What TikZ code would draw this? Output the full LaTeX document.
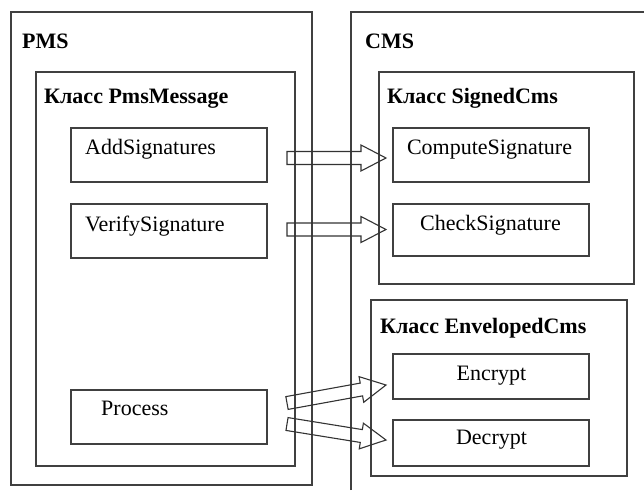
\documentclass[tikz,border=0pt]{standalone}
\usepackage{fontspec}
\setmainfont{Liberation Serif}
\usetikzlibrary{calc}
\tikzset{
  box/.style={draw=black!75, line width=1.1pt, rectangle, inner sep=0pt, outer sep=0pt},
  title/.style={anchor=base west, inner sep=0pt, font=\fontsize{22}{26}\selectfont\bfseries},
  mtext/.style={anchor=base west, inner sep=0pt, font=\fontsize{22}{26}\selectfont},
  ctext/.style={anchor=base, inner sep=0pt, font=\fontsize{22}{26}\selectfont},
  barrow/.style={draw=black!80, line width=1.1pt, line join=miter}
}
\newcommand\myblockarrow[2]{%
  \coordinate (#1h) at ($(#2)!25pt!(#1)$);
  \draw[barrow] ($(#1)!6.5pt!90:(#2)$) -- ($(#1h)!6.5pt!90:(#2)$) -- ($(#1h)!13pt!90:(#2)$) -- (#2) -- ($(#1h)!13pt!-90:(#2)$) -- ($(#1h)!6.5pt!-90:(#2)$) -- ($(#1)!6.5pt!-90:(#2)$) -- cycle;}
\begin{document}
\begin{tikzpicture}[x=1pt,y=-1pt]
\useasboundingbox (0,0) rectangle (644,490);
% PMS side
\node[box, minimum width=301pt, minimum height=473pt] (pms) at (161.5,248.5) {};
\node[box, minimum width=259pt, minimum height=394pt] (pmsmsg) at (165.5,269) {};
\node[box, minimum width=196pt, minimum height=54pt] (add) at (169,155) {};
\node[box, minimum width=196pt, minimum height=54pt] (verify) at (169,231) {};
\node[box, minimum width=196pt, minimum height=54pt] (process) at (169,417) {};
% CMS side
\draw[draw=black!75, line width=1.1pt] (351,490) coordinate (cmsb) -- (351,12) coordinate (cmstl) -- (644,12) coordinate (cmsr);
\node[box, minimum width=255pt, minimum height=212pt] (signed) at (506.5,178) {};
\node[box, minimum width=196pt, minimum height=54pt] (compute) at (491,155) {};
\node[box, minimum width=196pt, minimum height=52pt] (check) at (491,230) {};
\node[box, minimum width=256pt, minimum height=176pt] (env) at (499,388) {};
\node[box, minimum width=196pt, minimum height=45pt] (encrypt) at (491,376.5) {};
\node[box, minimum width=196pt, minimum height=46pt] (decrypt) at (491,443) {};
% titles
\node[title] (tpms) at (22,48) {PMS};
\node[title] (tcms) at (365,48) {CMS};
\node[title] (tpmsmsg) at (44,103) {Класс PmsMessage};
\node[title] (tsigned) at (387,103) {Класс SignedCms};
\node[title] (tenv) at (380,333) {Класс EnvelopedCms};
% method texts
\node[mtext] (tadd) at (85,154) {AddSignatures};
\node[mtext] (tverify) at (85,231) {VerifySignature};
\node[mtext] (tprocess) at (101,415) {Process};
\node[ctext] (tcompute) at (489.5,154) {ComputeSignature};
\node[ctext] (tcheck) at (490.5,230) {CheckSignature};
\node[ctext] (tencrypt) at (491.5,380) {Encrypt};
\node[ctext] (tdecrypt) at (491.5,444) {Decrypt};
% arrows
\coordinate (a1s) at ($(add.east)+(20,3)$);
\coordinate (a1e) at ($(compute.west)+(-7,3)$);
\coordinate (a2s) at ($(verify.east)+(20,-1.5)$);
\coordinate (a2e) at ($(check.west)+(-7,-0.5)$);
\coordinate (a3s) at ($(process.east)+(20,-14)$);
\coordinate (a3e) at ($(encrypt.west)+(-7,8.5)$);
\coordinate (a4s) at ($(process.east)+(20,7)$);
\coordinate (a4e) at ($(decrypt.west)+(-7,-3)$);
\myblockarrow{a1s}{a1e}
\myblockarrow{a2s}{a2e}
\myblockarrow{a3s}{a3e}
\myblockarrow{a4s}{a4e}
\end{tikzpicture}
\end{document}
